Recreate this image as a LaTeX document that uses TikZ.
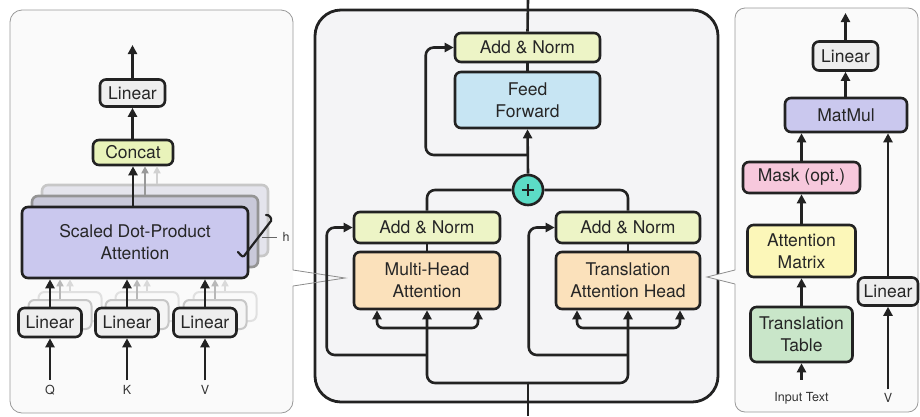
\documentclass[tikz,border=0pt]{standalone}
\usepackage{fontspec}
\setmainfont{TeX Gyre Heros}
\usetikzlibrary{arrows.meta,calc}

\definecolor{ink}{HTML}{222222}
\definecolor{greybox}{HTML}{EEEEEE}
\definecolor{normc}{HTML}{EDF4C6}
\definecolor{concatc}{HTML}{E9F3BA}
\definecolor{ffc}{HTML}{C7E5F3}
\definecolor{mhac}{HTML}{FBE1BB}
\definecolor{sdpac}{HTML}{CAC8EE}
\definecolor{sdpaback}{HTML}{C9C9D9}
\definecolor{sdpafar}{HTML}{E4E4EC}
\definecolor{maskc}{HTML}{F7C8DC}
\definecolor{attmc}{HTML}{FCF7B9}
\definecolor{ttabc}{HTML}{C9E6C9}
\definecolor{plusc}{HTML}{5CDCC6}
\definecolor{panelc}{HTML}{F4F4F6}

\begin{document}
\begin{tikzpicture}[x=1pt,y=-1pt,
  font=\fontsize{17.5}{22}\selectfont,
  box/.style={draw=ink, line width=2.6pt, rounded corners=6pt, align=center,
              text=black!85, inner sep=0pt},
  ghostbox/.style={draw=black!22, line width=2pt, rounded corners=6pt, fill=black!4, inner sep=0pt},
  arr/.style={draw=ink, line width=2.6pt, -{Triangle[length=9pt,width=9pt]}},
  garr/.style={line width=1.8pt, -{Triangle[length=7pt,width=7pt]}},
  wire/.style={draw=ink, line width=2.6pt},
  small/.style={font=\fontsize{12.5}{14}\selectfont, text=black!80, inner sep=0pt},
  panel/.style={draw=black!40, line width=0.8pt, fill=white!98!black},
  wedge/.style={draw=black!45, line width=0.8pt}]

\useasboundingbox (0,0) rectangle (920,416);

% ---------------- side panels and the central block ----------------
\draw[panel, rounded corners=12pt] (293,270) -- (293,10) -- (10,10) -- (10,413) -- (293,413) -- (293,286);
\draw[panel, rounded corners=10pt] (735,284) -- (735,412) -- (918,412) -- (918,8) -- (735,8) -- (735,270);
\draw[line width=2.8pt, draw=ink, fill=panelc, rounded corners=26pt] (315,10) rectangle (718,402);
\draw[wedge] (293,270) -- (345,278) -- (293,286);
\draw[wedge, fill=white!98!black] (735,270) -- (707,277) -- (735,284);

% ---------------- multi-head attention (left) ----------------
\node[box, draw=black!22, fill=sdpafar, minimum width=226pt, minimum height=71pt] (sdpa3) at (155,220.5) {};
\node[box, draw=black!42, fill=sdpaback, minimum width=226pt, minimum height=71pt] (sdpa2) at (145,231.5) {};
\node[box, fill=sdpac, minimum width=226pt, minimum height=71pt] (sdpa) at (135,242.5) {Scaled Dot-Product\\Attention};

\node[box, fill=greybox, minimum width=65pt, minimum height=27pt] (linout) at (132.5,93) {Linear};
\node[box, fill=concatc, minimum width=80pt, minimum height=25pt] (concat) at (133,152.5) {Concat};

\foreach \n/\x in {Q/50,K/127,V/205}{
  \node[ghostbox, draw=black!12, fill=black!2, minimum width=63pt, minimum height=29pt] (lin\n3) at (\x+20,306.5) {};
  \node[ghostbox, minimum width=63pt, minimum height=29pt] (lin\n2) at (\x+10,314.5) {};
  \draw[garr, draw=black!15] (lin\n3.north) -- (lin\n3.north |- sdpa.south);
  \draw[garr, draw=black!28] (lin\n2.north) -- (lin\n2.north |- sdpa.south);
  \node[box, fill=greybox, minimum width=63pt, minimum height=29pt] (lin\n) at (\x,322.5) {Linear};
  \node[small] (in\n) at (\x,390) {\n};
  \draw[arr, shorten <=5pt] (in\n.north) -- (lin\n.south);
  \draw[arr] (lin\n.north) -- (lin\n.north |- sdpa.south);
}

\draw[garr, draw=black!18] ([xshift=2pt]sdpa3.north) -- ([xshift=2pt]sdpa3.north |- concat.south);
\draw[garr, draw=black!40] (sdpa2.north) -- (sdpa2.north |- concat.south);
\draw[arr] (concat.south |- sdpa.north) -- (concat.south);
\draw[arr] (concat.north) -- (linout.south |- concat.north) -- (linout.south);
\coordinate (mhaout) at (132.5,45);
\draw[arr] (linout.north) -- (mhaout);

% the "h" brace beside the stack
\draw[ink, line width=2.2pt, line cap=round] (238,252) to[out=-40,in=210] (244,256) -- (271,221) to[out=70,in=10] (266,215);
\draw[black!60, line width=1pt] (262,237) -- (277,237);
\node[small] (hlab) at (286,237) {h};

% ---------------- central block ----------------
\node[box, fill=normc, minimum width=145pt, minimum height=29pt] (antop) at (527.5,47.5) {Add \& Norm};
\node[box, fill=ffc, minimum width=145pt, minimum height=56pt] (ff) at (527.5,100) {Feed\\Forward};
\node[circle, draw=ink, line width=2.6pt, fill=plusc, minimum size=30pt, inner sep=0pt] (plus) at (528,190) {};
\draw[ink, line width=2.2pt] ($(plus)+(-6,0)$) -- ($(plus)+(6,0)$);
\draw[ink, line width=2.2pt] ($(plus)+(0,-6)$) -- ($(plus)+(0,6)$);

\node[box, fill=normc, minimum width=146pt, minimum height=31pt] (anl) at (427,227.5) {Add \& Norm};
\node[box, fill=mhac, minimum width=146pt, minimum height=57pt] (mha) at (427,280.5) {Multi-Head\\Attention};
\node[box, fill=normc, minimum width=144pt, minimum height=31pt] (anr) at (628,227.5) {Add \& Norm};
\node[box, fill=mhac, minimum width=144pt, minimum height=57pt] (tah) at (628,280.5) {Translation\\Attention Head};

\coordinate (topout) at (528,0);
\coordinate (ffsplit) at (528,155);
\coordinate (blockin) at (528,416);
\coordinate (split) at (528,383);
\coordinate (mfork) at (427,328);
\coordinate (mskip) at (427,355);
\coordinate (tfork) at (628,328);
\coordinate (tskip) at (628,355);

\draw[wire] (antop.north) -- (topout);
\draw[wire] (ff.north) -- (antop.south);
\draw[arr] (plus.north) -- (ff.south);
\draw[arr, rounded corners=8pt] (ffsplit) -| ([xshift=-28pt]antop.west) -- (antop.west);
\draw[wire, rounded corners=8pt] (plus.west) -| (anl.north);
\draw[wire, rounded corners=8pt] (plus.east) -| (anr.north);
\draw[wire] (anl.south) -- (mha.north);
\draw[wire] (anr.south) -- (tah.north);

\draw[wire] (blockin) -- (split);
\draw[arr, rounded corners=8pt] (split) -| (mha.south);
\draw[arr, rounded corners=8pt] (split) -| (tah.south);
\draw[arr, rounded corners=6pt] (mfork) -| ([xshift=-50pt]mha.south);
\draw[arr, rounded corners=6pt] (mfork) -| ([xshift=51pt]mha.south);
\draw[arr, rounded corners=6pt] (tfork) -| ([xshift=-51pt]tah.south);
\draw[arr, rounded corners=6pt] (tfork) -| ([xshift=52pt]tah.south);
\draw[arr, rounded corners=8pt] (mskip) -| ([xshift=-26pt]anl.west) -- (anl.west);
\draw[arr, rounded corners=8pt] (tskip) -| ([xshift=-26pt]anr.west) -- (anr.west);

% ---------------- translation attention head (right) ----------------
\node[box, fill=greybox, minimum width=65pt, minimum height=29pt] (rlinout) at (845.5,56) {Linear};
\node[box, fill=sdpac, minimum width=122pt, minimum height=34pt] (matmul) at (846,115) {MatMul};
\node[box, fill=maskc, minimum width=117pt, minimum height=31pt] (mask) at (801.5,177.5) {Mask (opt.)};
\node[box, fill=attmc, minimum width=108pt, minimum height=52pt] (attm) at (801.5,251) {Attention\\Matrix};
\node[box, fill=ttabc, minimum width=102pt, minimum height=55pt] (ttab) at (801.5,334.5) {Translation\\Table};
\node[box, fill=greybox, minimum width=60pt, minimum height=28pt] (rlinv) at (888,291.5) {Linear};
\node[small] (intext) at (801.5,398) {Input Text};
\node[small] (vin) at (888,398) {V};
\coordinate (tahout) at (845.5,13);

\draw[arr, shorten <=12pt] (intext.north) -- (ttab.south);
\draw[arr] (ttab.north) -- (attm.south);
\draw[arr] (attm.north) -- (mask.south);
\draw[arr] (mask.north) -- (mask.north |- matmul.south);
\draw[arr, shorten <=4pt] (vin.north) -- (rlinv.south);
\draw[arr] (rlinv.north) -- (rlinv.north |- matmul.south);
\draw[arr] (rlinout.south |- matmul.north) -- (rlinout.south);
\draw[arr] (rlinout.north) -- (tahout);

\end{tikzpicture}
\end{document}
